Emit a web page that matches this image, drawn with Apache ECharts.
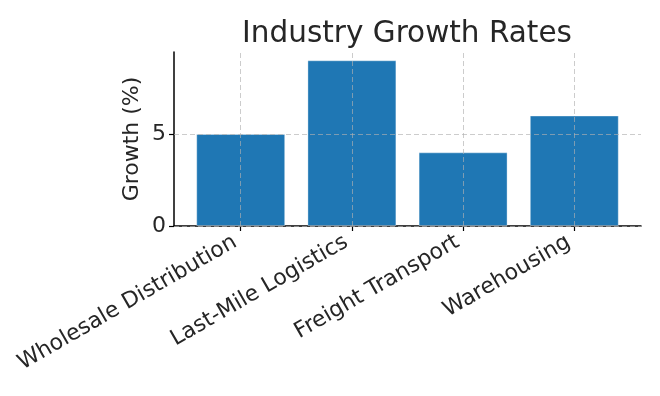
<!DOCTYPE html>
<html>
<head>
<meta charset="utf-8">
<script src="https://cdn.jsdelivr.net/npm/echarts@6/dist/echarts.min.js"></script>
<style>
  html, body { margin: 0; padding: 0; background: #ffffff; }
  #chart { width: 660px; height: 396px; }
</style>
</head>
<body>
<div id="chart"></div>
<script>
const categories = ['Wholesale Distribution', 'Last-Mile Logistics', 'Freight Transport', 'Warehousing'];
const growth = [5, 9, 4, 6];
const yTicks = [0, 5];
const titleText = 'Industry Growth Rates';
const yName = 'Growth (%)';

const catIdx = categories.map((c, i) => i);
const FONT = 'DejaVu Sans';
const TXT = '#262626';
const gridColor = 'rgba(176,176,176,0.65)';

const chart = echarts.init(document.getElementById('chart'), null, { renderer: 'canvas' });
chart.setOption({
  animation: false,
  backgroundColor: '#ffffff',
  title: {
    text: titleText,
    left: 402,
    textAlign: 'center',
    top: 14,
    textStyle: { fontFamily: FONT, fontSize: 29.5, fontWeight: 'normal', color: TXT }
  },
  grid: { left: 174, right: 19, top: 52, bottom: 170, containLabel: false },
  xAxis: {
    type: 'value',
    min: -0.6,
    max: 3.6,
    axisLine: { show: true, onZero: false, lineStyle: { color: '#000', width: 1.5 } },
    axisTick: { show: true, customValues: catIdx, length: 5, lineStyle: { color: '#000', width: 1.2 } },
    axisLabel: {
      customValues: catIdx,
      rotate: 30,
      align: 'right',
      verticalAlign: 'bottom',
      margin: 24,
      fontFamily: FONT,
      fontSize: 22,
      color: TXT,
      formatter: v => categories[Math.round(v)]
    },
    splitLine: { show: false }
  },
  yAxis: {
    type: 'value',
    min: 0,
    max: Math.max(...growth) * 1.05,
    name: yName,
    nameLocation: 'middle',
    nameRotate: 90,
    nameGap: 31,
    nameMoveOverlap: false,
    nameTextStyle: { fontFamily: FONT, fontSize: 22, color: TXT },
    axisLine: { show: true, onZero: false, lineStyle: { color: '#000', width: 1.5 } },
    axisTick: { show: true, customValues: yTicks, length: 5, lineStyle: { color: '#000', width: 1.2 } },
    axisLabel: { customValues: yTicks, margin: 8, fontFamily: FONT, fontSize: 22, color: TXT },
    splitLine: { show: false }
  },
  series: [{
    type: 'bar',
    data: categories.map((c, i) => [i, growth[i]]),
    barWidth: '80%',
    itemStyle: { color: '#1f77b4', borderColor: 'rgba(255,255,255,0.35)', borderWidth: 1 },
    markLine: {
      silent: true,
      symbol: 'none',
      label: { show: false },
      lineStyle: { color: gridColor, type: [5, 3], width: 1 },
      emphasis: { disabled: true },
      data: [
        ...catIdx.map(i => ({ xAxis: i })),
        ...yTicks.map(v => ({ yAxis: v }))
      ]
    }
  }]
});
</script>
</body>
</html>
